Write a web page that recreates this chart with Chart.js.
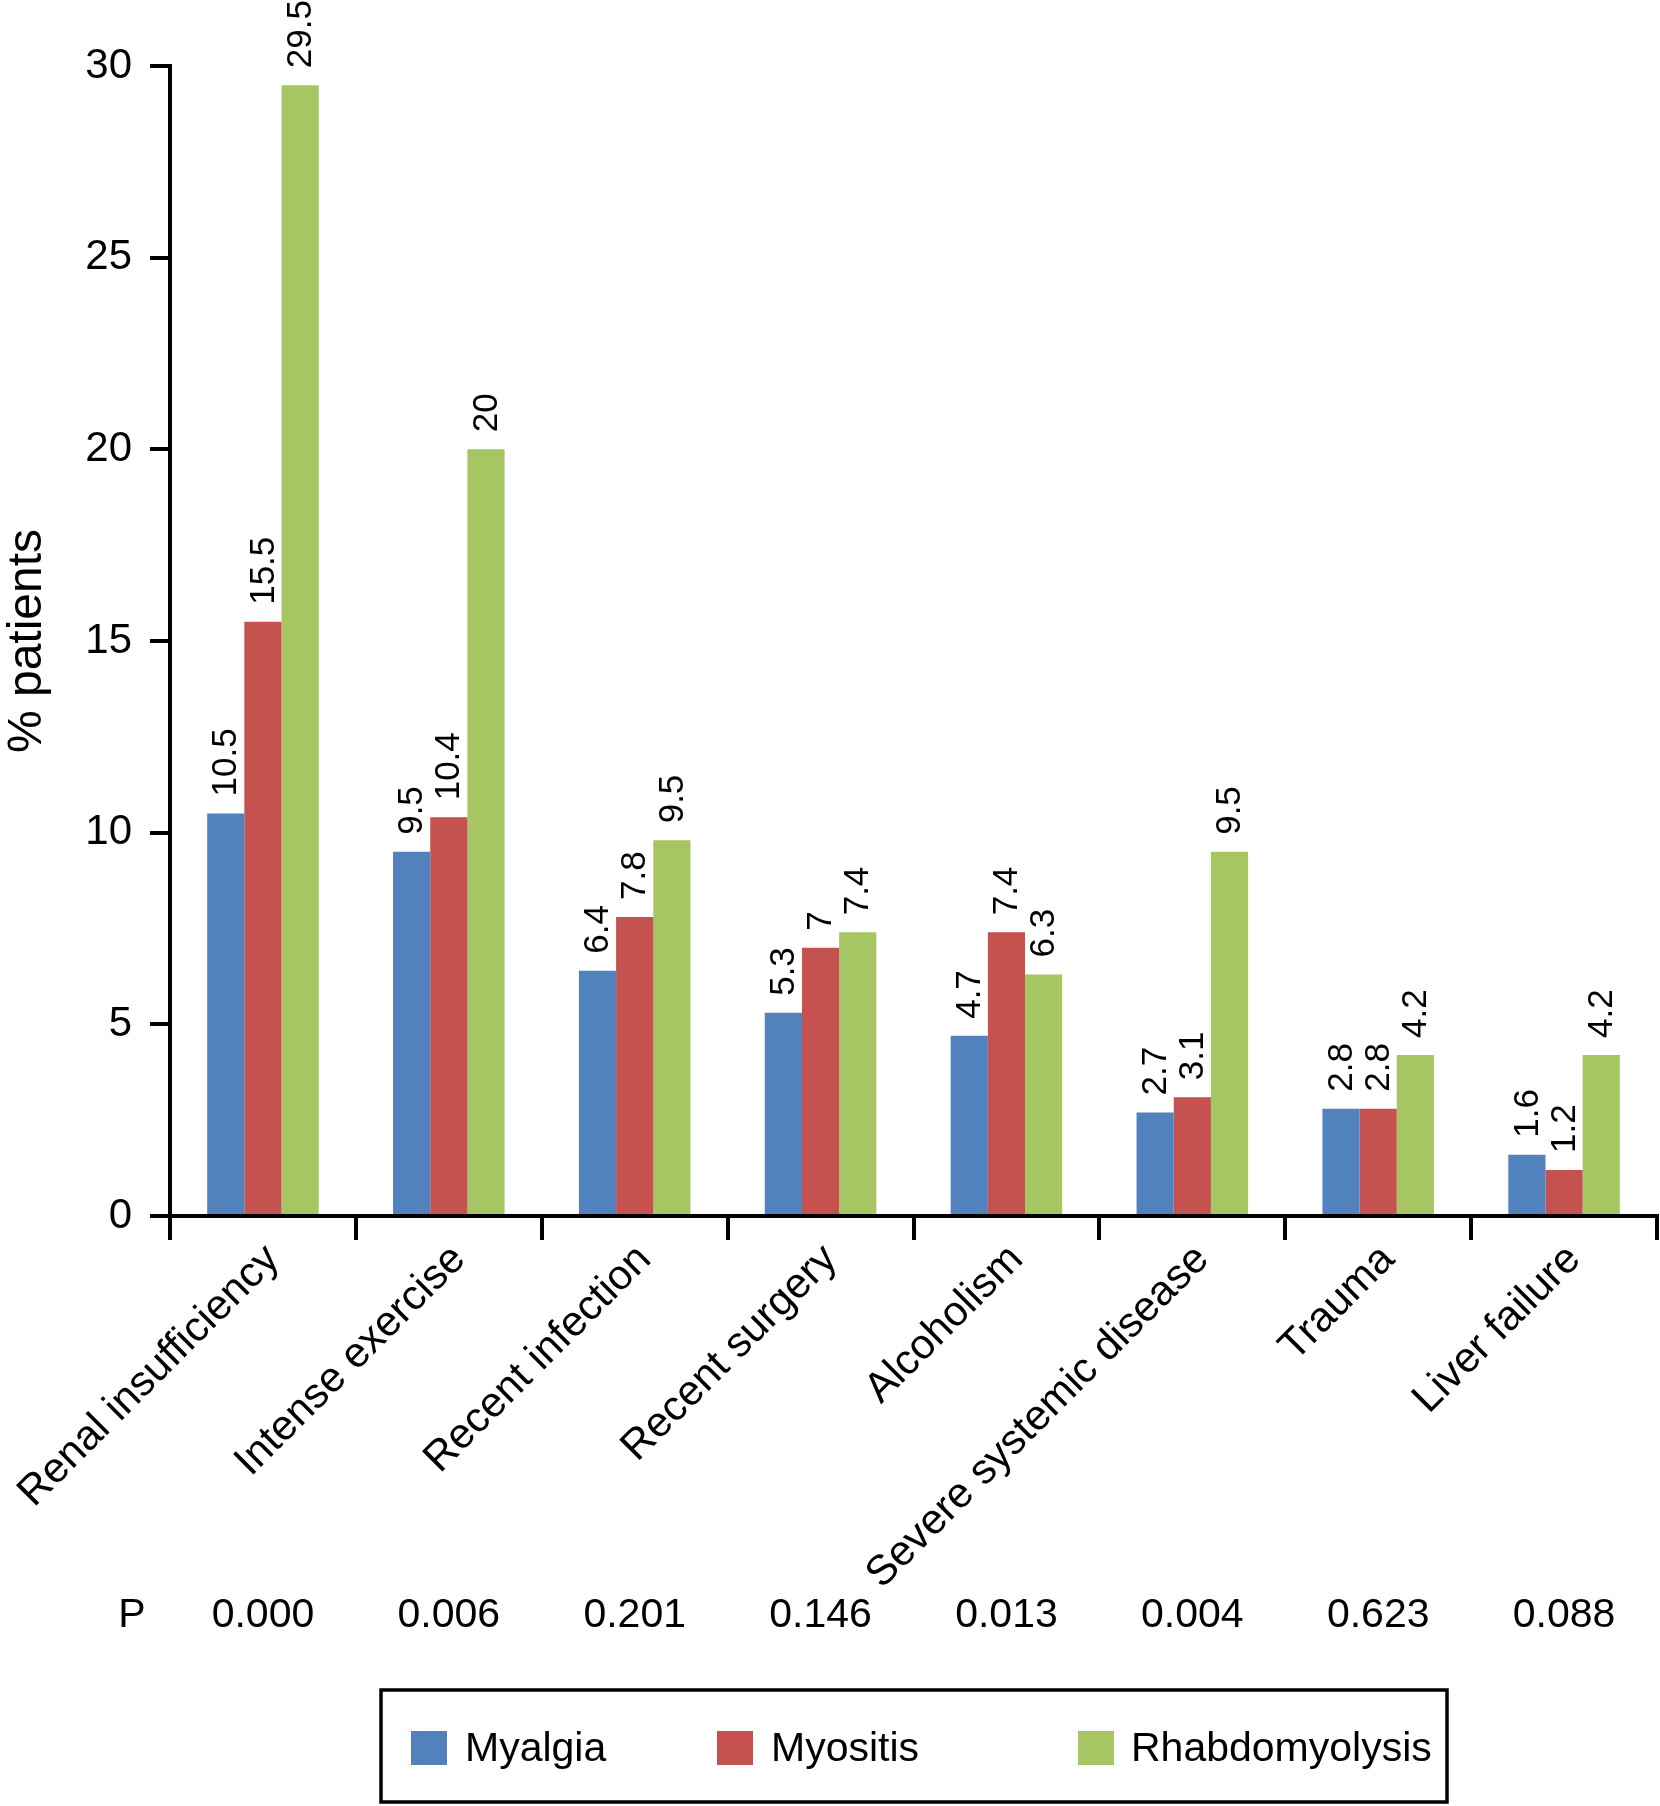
<!DOCTYPE html>
<html>
<head>
<meta charset="utf-8">
<script src="https://cdn.jsdelivr.net/npm/chart.js@4/dist/chart.umd.min.js"></script>
<style>
  html, body { margin: 0; padding: 0; background: #ffffff; }
  #wrap { width: 1660px; height: 1806px; position: relative; }
</style>
</head>
<body>
<div id="wrap"><canvas id="c"></canvas></div>
<script>
const categories = ['Renal insufficiency', 'Intense exercise', 'Recent infection', 'Recent surgery', 'Alcoholism', 'Severe systemic disease', 'Trauma', 'Liver failure'];
const seriesNames = ['Myalgia', 'Myositis', 'Rhabdomyolysis'];
const myalgia = [10.5, 9.5, 6.4, 5.3, 4.7, 2.7, 2.8, 1.6];
const myositis = [15.5, 10.4, 7.8, 7.0, 7.4, 3.1, 2.8, 1.2];
const rhabdomyolysis = [29.5, 20.0, 9.8, 7.4, 6.3, 9.5, 4.2, 4.2];
const myalgiaLabels = ['10.5', '9.5', '6.4', '5.3', '4.7', '2.7', '2.8', '1.6'];
const myositisLabels = ['15.5', '10.4', '7.8', '7', '7.4', '3.1', '2.8', '1.2'];
const rhabdomyolysisLabels = ['29.5', '20', '9.5', '7.4', '6.3', '9.5', '4.2', '4.2'];
const pValues = ['0.000', '0.006', '0.201', '0.146', '0.013', '0.004', '0.623', '0.088'];
const yTicks = [0, 5, 10, 15, 20, 25, 30];

const colors = ['#5282BE', '#C5524F', '#A6C563'];
const FONT = "'Liberation Sans', Arial, Helvetica, sans-serif";

const labelPlugin = {
  id: 'barLabels',
  afterDatasetsDraw(chart) {
    const ctx = chart.ctx;
    const labelSets = [myalgiaLabels, myositisLabels, rhabdomyolysisLabels];
    ctx.save();
    ctx.fillStyle = '#000';
    ctx.font = '35px ' + FONT;
    ctx.textAlign = 'left';
    ctx.textBaseline = 'middle';
    chart.data.datasets.forEach((ds, di) => {
      const meta = chart.getDatasetMeta(di);
      meta.data.forEach((bar, i) => {
        ctx.save();
        ctx.translate(bar.x, bar.y - 17);
        ctx.rotate(-Math.PI / 2);
        ctx.fillText(labelSets[di][i], 0, 1);
        ctx.restore();
      });
    });
    ctx.restore();
  },
  afterDraw(chart) {
    const ctx = chart.ctx;
    const xs = chart.scales.x;
    ctx.save();
    ctx.fillStyle = '#000';
    ctx.font = '41px ' + FONT;
    ctx.textBaseline = 'alphabetic';
    ctx.textAlign = 'center';
    ctx.fillText('P', 132, 1627);
    pValues.forEach((p, i) => {
      ctx.fillText(p, xs.getPixelForValue(i), 1627);
    });
    // legend box
    ctx.strokeStyle = '#000';
    ctx.lineWidth = 3.5;
    ctx.strokeRect(381, 1690, 1066, 112);
    const items = [
      { sx: 411, tx: 465 },
      { sx: 717, tx: 771 },
      { sx: 1078, tx: 1131 }
    ];
    ctx.textAlign = 'left';
    ctx.textBaseline = 'middle';
    chart.data.datasets.forEach((ds, di) => {
      ctx.fillStyle = ds.backgroundColor;
      ctx.fillRect(items[di].sx, 1731, 36, 34);
      ctx.fillStyle = '#000';
      ctx.fillText(ds.label, items[di].tx, 1750);
    });
    ctx.restore();
  }
};

new Chart(document.getElementById('c'), {
  type: 'bar',
  data: {
    labels: categories,
    datasets: [
      { label: seriesNames[0], data: myalgia, backgroundColor: colors[0] },
      { label: seriesNames[1], data: myositis, backgroundColor: colors[1] },
      { label: seriesNames[2], data: rhabdomyolysis, backgroundColor: colors[2] }
    ]
  },
  options: {
    responsive: true,
    maintainAspectRatio: false,
    devicePixelRatio: 1,
    animation: false,
    categoryPercentage: 0.6,
    barPercentage: 1.0,
    layout: { padding: { top: 66, right: 3, left: 0, bottom: 0 } },
    plugins: {
      legend: { display: false },
      tooltip: { enabled: false }
    },
    scales: {
      x: {
        grid: {
          offset: true,
          drawOnChartArea: false,
          drawTicks: true,
          tickLength: 24,
          color: '#000',
          lineWidth: 4
        },
        border: { display: true, color: '#000', width: 4 },
        ticks: {
          color: '#000',
          font: { family: FONT, size: 42 },
          maxRotation: 45,
          minRotation: 45,
          autoSkip: false,
          padding: -5,
          labelOffset: 10
        },
        afterFit(scale) { scale.height = 590; }
      },
      y: {
        min: 0,
        max: 30,
        afterBuildTicks(scale) { scale.ticks = yTicks.map(v => ({ value: v })); },
        grid: {
          drawOnChartArea: false,
          drawTicks: true,
          tickLength: 20,
          color: '#000',
          lineWidth: 4
        },
        border: { display: true, color: '#000', width: 4 },
        ticks: {
          color: '#000',
          font: { family: FONT, size: 42 },
          padding: 18
        },
        title: {
          display: true,
          text: '% patients',
          color: '#000',
          font: { family: FONT, size: 48, lineHeight: 1.15 },
          padding: 0
        },
        afterFit(scale) { scale.width = 170; }
      }
    }
  },
  plugins: [labelPlugin]
});
</script>
</body>
</html>
